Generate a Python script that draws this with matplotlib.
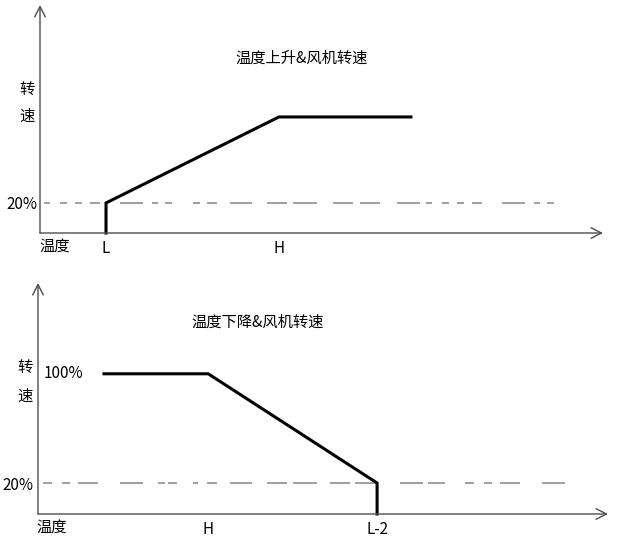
import matplotlib
matplotlib.use('Agg')
import matplotlib.pyplot as plt

plt.rcParams['font.family'] = ['Noto Sans CJK SC', 'DejaVu Sans']
plt.rcParams['lines.scale_dashes'] = False

# ---------------- data ----------------
rise_title = '温度上升&风机转速'
fall_title = '温度下降&风机转速'
speed_label = ['转', '速']
temp_label = '温度'

# top chart: temperature rising (x in temperature units, y in % speed)
rise_ticks = [1.0, 3.62]
rise_tick_labels = ['L', 'H']
rise_x = [1.0, 1.0, 3.62, 5.62]
rise_y = [-2.0, 20, 83, 83]          # starts at the axis floor
rise_ref = 20
rise_ref_end = 7.95

# bottom chart: temperature falling
fall_ticks = [2.58, 5.14]
fall_tick_labels = ['H', 'L-2']
fall_x = [1.0, 2.58, 5.14, 5.14]
fall_y = [100, 100, 20, -2.7]        # ends at the axis floor
fall_ref = 20
fall_ref_end = 8.06
fall_top_label = '100%'

PX = 0.72  # px -> pt at 100 dpi
rise_dash = [0.01, 4, 6, 10, 7, 8, 7, 8, 10, 20, 23, 9, 6, 7, 7, 21, 7, 7, 10, 13, 22, 15,
             20, 6, 24, 16, 20, 7, 20, 17, 23, 2, 21, 14, 31, 27, 10, 23, 4, 3, 10, 200]
fall_dash = [0.01, 5, 9, 10, 8, 8, 20, 22, 23, 15, 7, 3, 9, 16, 5, 9, 10, 13, 22, 15,
             20, 6, 24, 13, 20, 5, 22, 23, 23, 5, 17, 15, 30, 28, 10, 24, 3, 3, 9, 200]

AX_COL = '#4d4d4d'
REF_COL = '#858585'
TXT = '#000000'
FS = 11
FW = 500

fig = plt.figure(figsize=(6.18, 5.39), dpi=100)

def draw_axes(ax, xlim, ylim):
    ax.set_xlim(*xlim)
    ax.set_ylim(*ylim)
    for s in ax.spines.values():
        s.set_visible(False)
    arrow = dict(arrowstyle='->,head_length=0.75,head_width=0.38', color=AX_COL,
                 lw=1.0, shrinkA=0, shrinkB=0, mutation_scale=10)
    ax.annotate('', xy=(1, 0), xytext=(0, 0), xycoords='axes fraction',
                textcoords='axes fraction', arrowprops=arrow)
    ax.annotate('', xy=(0, 1), xytext=(0, 0), xycoords='axes fraction',
                textcoords='axes fraction', arrowprops=arrow)
    ax.tick_params(length=0, labelsize=FS, labelcolor=TXT)
    for lab in ax.get_xticklabels() + ax.get_yticklabels():
        lab.set_fontweight(FW)

def txt(ax, x, y, s, **kw):
    ax.text(x, y, s, fontsize=FS, color=TXT, fontweight=FW, clip_on=False, **kw)

# ---- top ----
ax1 = fig.add_axes([40/618, (539-233)/539, 563/618, 228/539])
ax1.plot([0, rise_ref_end], [rise_ref, rise_ref], color=REF_COL, lw=1.1,
         linestyle=(0, [d*PX for d in rise_dash]), solid_capstyle='butt', dash_capstyle='butt')
ax1.plot(rise_x, rise_y, color='black', lw=2.2, solid_joinstyle='miter', clip_on=False)
ax1.set_xticks(rise_ticks, rise_tick_labels)
ax1.set_yticks([rise_ref], ['20%'])
draw_axes(ax1, (0, 8.53), (-2.0, 165))
ax1.tick_params(axis='x', pad=5)
ax1.tick_params(axis='y', pad=2)
txt(ax1, 3.97, 126, rise_title, ha='center', va='center')
txt(ax1, -0.2, 102.8, speed_label[0], ha='center', va='center')
txt(ax1, -0.2, 83.7, speed_label[1], ha='center', va='center')
txt(ax1, 0.23, -11.5, temp_label, ha='center', va='center')

# ---- bottom ----
ax2 = fig.add_axes([38/618, (539-514)/539, 570/618, 231/539])
ax2.plot([0, fall_ref_end], [fall_ref, fall_ref], color=REF_COL, lw=1.1,
         linestyle=(0, [d*PX for d in fall_dash]), solid_capstyle='butt', dash_capstyle='butt')
ax2.plot(fall_x, fall_y, color='black', lw=2.2, solid_joinstyle='miter', clip_on=False)
ax2.set_xticks(fall_ticks, fall_tick_labels)
ax2.set_yticks([fall_ref], ['20%'])
draw_axes(ax2, (0, 8.64), (-2.7, 166.5))
ax2.tick_params(axis='x', pad=5)
ax2.tick_params(axis='y', pad=3.5)
txt(ax2, 0.08, 100, fall_top_label, ha='left', va='center')
txt(ax2, 3.33, 138, fall_title, ha='center', va='center')
txt(ax2, -0.2, 104.3, speed_label[0], ha='center', va='center')
txt(ax2, -0.2, 83.7, speed_label[1], ha='center', va='center')
txt(ax2, 0.21, -12.2, temp_label, ha='center', va='center')

fig.savefig('out.png', dpi=100)
